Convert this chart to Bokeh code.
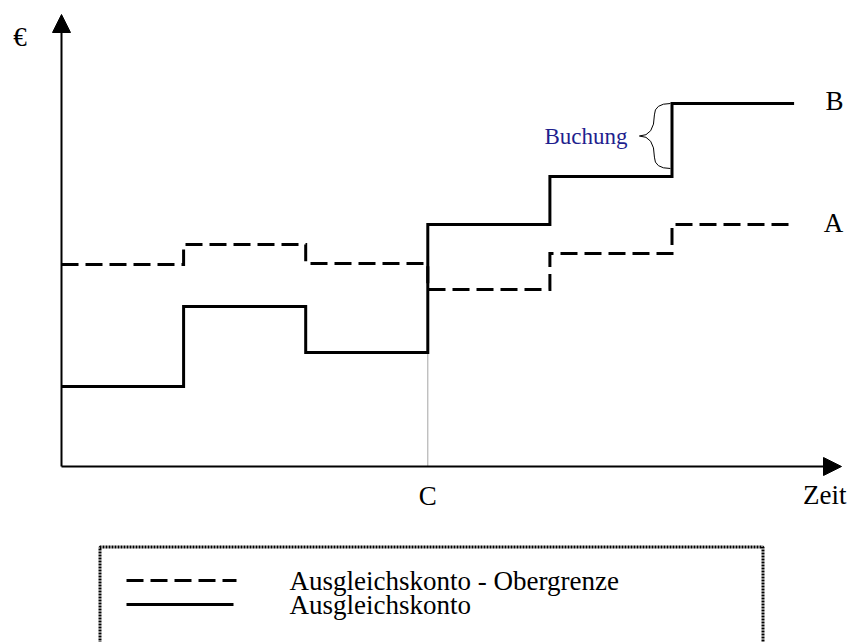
from bokeh.plotting import figure
from bokeh.models import Range1d, Arrow, NormalHead, Label
from bokeh.embed import file_html
from bokeh.resources import INLINE

# ---------------- data ----------------
periods = [0, 1, 2, 3, 4, 5, 6]                      # period boundaries on the time axis
konto = [8.0, 16.0, 11.4, 24.2, 29.0, 36.3]          # Ausgleichskonto (solid)
obergrenze = [20.2, 22.2, 20.3, 17.7, 21.3, 24.2]    # Ausgleichskonto - Obergrenze (dashed)
end_labels = ["B", "A"]
x_title = "Zeit"
y_title = "€"
c_label = "C"
c_period = 3
buchung_label = "Buchung"
buchung_period = 5
legend_labels = ["Ausgleichskonto - Obergrenze", "Ausgleichskonto"]

# ---------------- layout helpers (canvas pixel -> data) ----------------
W, H = 848, 642
OX, OY = 61.0, 466.0      # canvas position of the origin
SX, SY = 122.1, 10.0      # pixels per unit


def tx(px):
    return (px - OX) / SX


def ty(py):
    return (OY - py) / SY


p = figure(width=W, height=H,
           x_range=Range1d(tx(0), tx(W)),
           y_range=Range1d(ty(H), ty(0)),
           output_backend="svg", toolbar_location=None,
           x_axis_location=None, y_axis_location=None,
           min_border=0, outline_line_color=None,
           background_fill_color="white", border_fill_color="white")
p.grid.visible = False

SERIF = "Liberation Serif"

# gray guide line at C
p.segment(x0=[periods[c_period]], y0=[0], x1=[periods[c_period]], y1=[konto[c_period - 1]],
          line_color="#a6a6a6", line_width=1)

# step lines
p.step(periods, obergrenze + [obergrenze[-1]], mode="after", line_color="black",
       line_width=3, line_dash="17 7", line_join="miter")
p.step(periods, konto + [konto[-1]], mode="after", line_color="black",
       line_width=3, line_join="miter")

# axes with arrow heads
p.add_layout(Arrow(end=NormalHead(size=18, fill_color="black", line_color="black", line_width=1),
                   x_start=0, y_start=0, x_end=0, y_end=ty(14),
                   line_color="black", line_width=2))
p.add_layout(Arrow(end=NormalHead(size=18, fill_color="black", line_color="black", line_width=1),
                   x_start=0, y_start=0, x_end=tx(841), y_end=0,
                   line_color="black", line_width=2))

# axis texts
p.add_layout(Label(x=tx(19.5), y=ty(36), text=y_title, text_font=SERIF, text_font_size="27px",
                   text_align="center", text_baseline="middle", text_color="black"))
p.add_layout(Label(x=tx(846), y=ty(494), text=x_title, text_font=SERIF, text_font_size="27px",
                   text_align="right", text_baseline="middle", text_color="black"))
p.add_layout(Label(x=periods[c_period], y=ty(495), text=c_label, text_font=SERIF,
                   text_font_size="27px", text_align="center", text_baseline="middle",
                   text_color="black"))

# end labels of the series
p.add_layout(Label(x=tx(834), y=ty(100), text=end_labels[0], text_font=SERIF,
                   text_font_size="27px", text_align="center", text_baseline="middle",
                   text_color="black"))
p.add_layout(Label(x=tx(833), y=ty(222), text=end_labels[1], text_font=SERIF,
                   text_font_size="27px", text_align="center", text_baseline="middle",
                   text_color="black"))

# curly brace marking the "Buchung"
xb = periods[buchung_period] - 0.013
xm = xb - 16 / SX
xt = xb - 31 / SX
ytop = konto[buchung_period]
ybot = ytop - 65 / SY
ymid = (ytop + ybot) / 2
h = ytop - ymid
p.quadratic(x0=[xb, xm, xt, xm], y0=[ytop, ytop - 0.35 * h, ymid, ybot + 0.35 * h],
            x1=[xm, xt, xm, xb], y1=[ytop - 0.35 * h, ymid, ybot + 0.35 * h, ybot],
            cx=[xm, xm, xm, xm], cy=[ytop, ymid, ymid, ybot],
            line_color="black", line_width=1)
p.add_layout(Label(x=tx(627), y=ymid, text=buchung_label, text_font=SERIF,
                   text_font_size="23px", text_align="right", text_baseline="middle",
                   text_color="#1f1f8e"))

# legend (drawn by hand)
p.line([tx(99.5), tx(99.5), tx(762.5), tx(762.5)], [ty(700), ty(546.5), ty(546.5), ty(700)],
       line_color="black", line_width=3, line_dash="2 1")
rows = [ty(580), ty(604)]
p.line([tx(126), tx(236)], [rows[0], rows[0]], line_color="black", line_width=3,
       line_dash="17 7")
p.line([tx(126), tx(233)], [rows[1], rows[1]], line_color="black", line_width=3)
for lab, ry in zip(legend_labels, rows):
    p.add_layout(Label(x=tx(289), y=ry, text=lab, text_font=SERIF, text_font_size="27px",
                       text_align="left", text_baseline="middle", text_color="black"))

open("out.html", "w").write(file_html(p, INLINE))
